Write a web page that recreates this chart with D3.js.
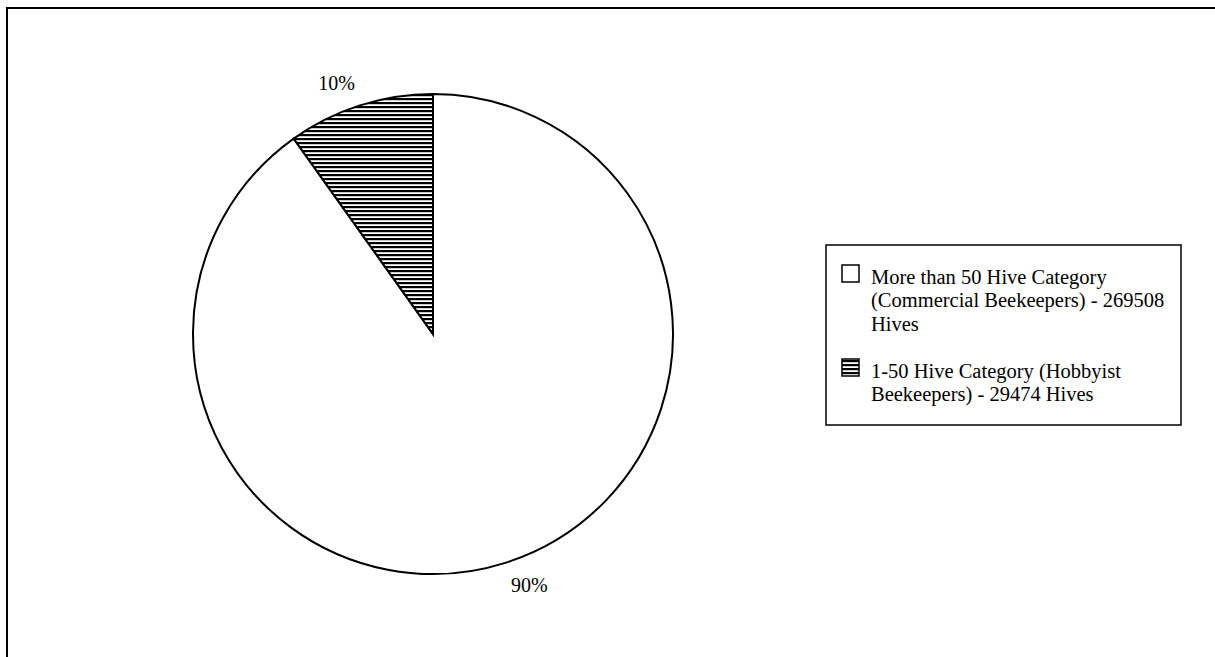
<!DOCTYPE html>
<html>
<head>
<meta charset="utf-8">
<script src="https://cdn.jsdelivr.net/npm/d3@7/dist/d3.min.js"></script>
<style>
  html, body { margin: 0; padding: 0; background: #fff; }
  svg { display: block; }
  text { font-family: "Liberation Serif", "Times New Roman", serif; fill: #000; }
</style>
</head>
<body>
<svg id="chart" width="1215" height="657"></svg>
<script>
// Hive counts by beekeeper category
const categories = ["More than 50 Hive Category (Commercial Beekeepers)", "1-50 Hive Category (Hobbyist Beekeepers)"];
const hives = [269508, 29474];
const fills = ["plain", "hatch"];
// Legend entries, already broken into lines
const legendLines = [
  ["More than 50 Hive Category", "(Commercial Beekeepers) - 269508", "Hives"],
  ["1-50 Hive Category (Hobbyist", "Beekeepers) - 29474 Hives"]
];

const svg = d3.select("#chart");
const W = 1215, H = 657;

// Horizontal-line hatching for the hobbyist slice
const defs = svg.append("defs");
const pat = defs.append("pattern")
  .attr("id", "hatch")
  .attr("patternUnits", "userSpaceOnUse")
  .attr("width", 8).attr("height", 4);
pat.append("rect").attr("width", 8).attr("height", 4).attr("fill", "#fff");
pat.append("rect").attr("y", 0).attr("width", 8).attr("height", 2.2).attr("fill", "#000");

const fillOf = k => k === "hatch" ? "url(#hatch)" : "#fff";

// Outer frame (runs off the right and bottom edges)
svg.append("rect")
  .attr("x", 7).attr("y", 8)
  .attr("width", W).attr("height", H)
  .attr("fill", "#fff").attr("stroke", "#000").attr("stroke-width", 2);

// Pie
const cx = 433, cy = 334, R = 240;
const total = d3.sum(hives);
const data = hives.map((v, i) => ({ name: categories[i], value: v, fill: fills[i] }));
const pie = d3.pie().sort(null).value(d => d.value).startAngle(0).endAngle(2 * Math.PI);
const arcs = pie(data);
const arc = d3.arc().innerRadius(0).outerRadius(R);
const labelArc = d3.arc().innerRadius(R + 16).outerRadius(R + 16);

const g = svg.append("g").attr("transform", `translate(${cx},${cy})`);
g.selectAll("path.slice")
  .data(arcs)
  .join("path")
  .attr("class", "slice")
  .attr("d", arc)
  .attr("fill", d => fillOf(d.data.fill))
  .attr("stroke", "#000")
  .attr("stroke-width", 2)
  .attr("stroke-linejoin", "miter");

// Percentage labels: nearest corner of the label sits on the slice's mid-angle
const pct = d3.format(".0%");
g.selectAll("text.pct")
  .data(arcs)
  .join("text")
  .attr("class", "pct")
  .each(function (d) {
    const [x, y] = labelArc.centroid(d);
    d3.select(this)
      .attr("x", x)
      .attr("y", y)
      .attr("dy", y < 0 ? "0" : "0.7em")
      .attr("text-anchor", x < 0 ? "end" : "start");
  })
  .style("font-size", "20px")
  .text(d => pct(d.value / total));

// Legend
const lg = svg.append("g");
lg.append("rect")
  .attr("x", 826).attr("y", 245)
  .attr("width", 355).attr("height", 180)
  .attr("fill", "#fff").attr("stroke", "#000").attr("stroke-width", 1.5);

const lineH = 23.4;
const itemTop = [284, 378];
legendLines.forEach((lines, i) => {
  const base = itemTop[i];
  lg.append("rect")
    .attr("x", 842).attr("y", base - 19)
    .attr("width", 17).attr("height", 17)
    .attr("fill", fillOf(fills[i]))
    .attr("stroke", "#000").attr("stroke-width", 1.5);
  const t = lg.append("text").style("font-size", "20.5px");
  lines.forEach((ln, j) => {
    t.append("tspan").attr("x", 871).attr("y", base + j * lineH).text(ln);
  });
});
</script>
</body>
</html>
